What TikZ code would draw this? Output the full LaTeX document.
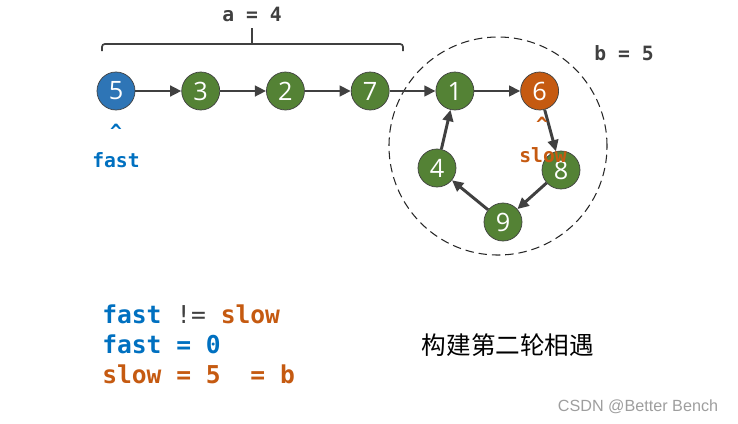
\documentclass[tikz,border=0pt]{standalone}
\usepackage{fontspec}
\setmainfont{Open Sans}
\setmonofont{DejaVu Sans Mono}
\newfontfamily\cjk{Noto Sans CJK SC}
\newfontfamily\markfont{Liberation Sans}
\usetikzlibrary{positioning,arrows.meta}

\definecolor{fastblue}{HTML}{2E75B6}
\definecolor{fasttext}{HTML}{0070C0}
\definecolor{slowred}{HTML}{C55A11}
\definecolor{listgreen}{HTML}{548235}
\definecolor{linkgray}{HTML}{404040}

\begin{document}
\begin{tikzpicture}[
x=0.025cm, y=-0.025cm,
list/.style={circle, draw=linkgray, line width=0.5pt, fill=listgreen, minimum size=0.95cm, inner sep=0pt, text=white, font=\fontsize{18}{18}\selectfont},
link/.style={-{Triangle[length=8pt, width=7.5pt]}, line width=2.1pt, draw=linkgray},
code/.style={font=\ttfamily\bfseries\fontsize{14}{14}\selectfont, inner sep=0pt},
bigcode/.style={font=\ttfamily\bfseries\fontsize{17.5}{17.5}\selectfont, inner sep=0pt, anchor=west}
]
\useasboundingbox (0,0) rectangle (738,423);

% the loop part
\node[circle, draw=black!85, dashed, dash pattern=on 6pt off 3.5pt, line width=0.75pt, minimum size=5.45cm] (loop) at (498,146) {};

% list nodes
\node[list, fill=fastblue] (n5) at (116,91) {5};
\node[list, right=1.15cm of n5] (n3) {3};
\node[list, right=1.15cm of n3] (n2) {2};
\node[list, right=1.15cm of n2] (n7) {7};
\node[list, right=1.15cm of n7] (n1) {1};
\node[list, fill=slowred, right=1.15cm of n1] (n6) {6};
\node[list] (n8) at (561,170) {8};
\node[list] (n9) at (503,222) {9};
\node[list] (n4) at (437,168) {4};

\draw[link] (n5) -- (n3);
\draw[link] (n3) -- (n2);
\draw[link] (n2) -- (n7);
\draw[link] (n7) -- (n1);
\draw[link] (n1) -- (n6);
\draw[link] (n6) -- (n8);
\draw[link] (n8) -- (n9);
\draw[link] (n9) -- (n4);
\draw[link] (n4) -- (n1);

% bracket over the tail
\draw[linkgray, line width=1.2pt, rounded corners=2pt] (102,51) -- (102,44) -- (403,44) -- (403,51);
\draw[linkgray, line width=1.2pt] (252,44) -- (252,28);
\node[code, text=linkgray] (alen) at (252,14) {a = 4};
\node[code, text=linkgray] (blen) at (624,53) {b = 5};

% pointers
\node[code, text=fasttext] (fastup) at (116,131) {\textasciicircum};
\node[code, text=fasttext] (fastname) at (116,160) {fast};
\node[code, text=slowred] (slowup) at (542,124) {\textasciicircum};
\node[code, text=slowred] (slowname) at (543,155) {slow};

% notes
\node[bigcode] (line1) at (102,314) {\textcolor{fasttext}{fast} \textcolor{linkgray}{\mdseries !=} \textcolor{slowred}{slow}};
\node[bigcode] (line2) at (102,344) {\textcolor{fasttext}{fast = 0}};
\node[bigcode] (line3) at (102,374) {\textcolor{slowred}{slow = 5\ \ = b}};
\node[font=\cjk\fontsize{17.5}{17.5}\selectfont, inner sep=0pt] (title) at (508,345) {构建第二轮相遇};
\node[font=\markfont\fontsize{11.5}{11.5}\selectfont, text=black!38, inner sep=0pt] (credit) at (638,407) {CSDN @Better Bench};
\end{tikzpicture}
\end{document}
